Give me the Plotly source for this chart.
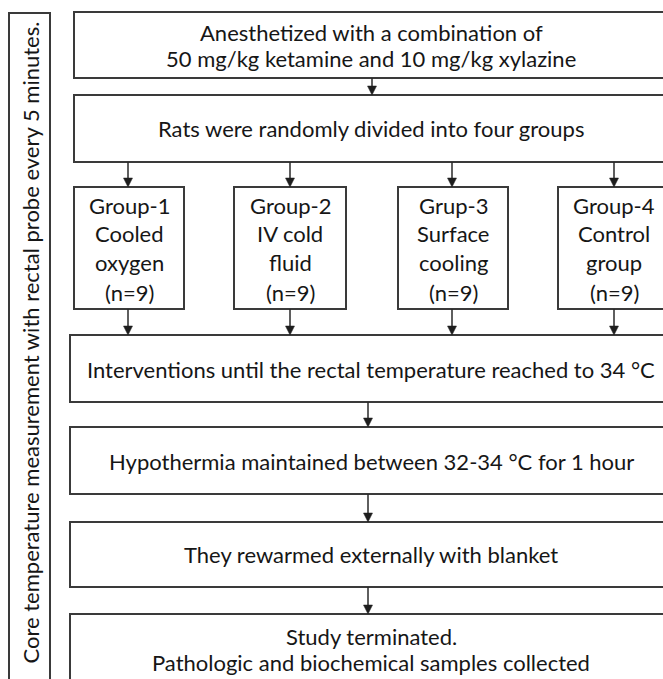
import plotly.graph_objects as go

# ---- text content ----
side_label = "Core temperature measurement with rectal probe every 5 minutes."
step_texts = [
    ["Anesthetized with a combination of", "50 mg/kg ketamine and 10 mg/kg xylazine"],
    ["Rats were randomly divided into four groups"],
    ["Interventions until the rectal temperature reached to 34 °C"],
    ["Hypothermia maintained between 32-34 °C for 1 hour"],
    ["They rewarmed externally with blanket"],
    ["Study terminated.", "Pathologic and biochemical samples collected"],
]
group_texts = [
    ["Group-1", "Cooled", "oxygen", "(n=9)"],
    ["Group-2", "IV cold", "fluid", "(n=9)"],
    ["Grup-3", "Surface", "cooling", "(n=9)"],
    ["Group-4", "Control", "group", "(n=9)"],
]

# ---- layout geometry (pixels, y downward) ----
W, H = 663, 679
LINE = dict(color="#3a3a3a", width=2)
FONT = dict(family="Lato, Open Sans, sans-serif", size=22, color="#161616")

step_boxes = [  # x0, x1, y0, y1
    (74, 672, 12, 78),
    (74, 672, 95, 162),
    (70, 672, 335, 402),
    (70, 672, 427, 494),
    (70, 672, 522, 587),
    (70, 672, 614, 690),
]
step_line_y = [[32, 58], [128], [369], [461], [554], [636, 662]]
group_boxes = [(74, 184), (234, 346), (398, 508), (558, 670)]
group_y = (187, 309)
group_arrow_x = [128, 290, 452, 614]
group_line_y = [205, 233, 262, 292]
side_box = (9, 50, 13, 700)

shapes = []
annotations = []

def rect(x0, x1, y0, y1):
    shapes.append(dict(type="rect", xref="x", yref="y", x0=x0, x1=x1, y0=y0, y1=y1,
                       line=LINE, fillcolor="rgba(0,0,0,0)", layer="above"))

def arrow(x, y0, y1):
    shapes.append(dict(type="line", xref="x", yref="y", x0=x, x1=x, y0=y0, y1=y1 - 6,
                       line=dict(color="#2a2a2a", width=1.5)))
    shapes.append(dict(type="path", xref="x", yref="y",
                       path=f"M {x-4.5},{y1-9} L {x+4.5},{y1-9} L {x},{y1} Z",
                       fillcolor="#1e1e1e", line=dict(color="#1e1e1e", width=0.5)))

rect(*side_box)
annotations.append(dict(x=(side_box[0] + side_box[1]) / 2, y=343, text=side_label,
                        textangle=-90, showarrow=False, xref="x", yref="y",
                        font=FONT, xanchor="center", yanchor="middle"))

for (x0, x1, y0, y1), lines, ys in zip(step_boxes, step_texts, step_line_y):
    rect(x0, x1, y0, y1)
    cx = (70 + 672) / 2
    for t, yy in zip(lines, ys):
        annotations.append(dict(x=cx, y=yy, text=t, showarrow=False, xref="x", yref="y",
                                font=FONT, xanchor="center", yanchor="middle"))

for (x0, x1), lines, ax in zip(group_boxes, group_texts, group_arrow_x):
    rect(x0, x1, group_y[0], group_y[1])
    for t, yy in zip(lines, group_line_y):
        annotations.append(dict(x=(x0 + x1) / 2, y=yy, text=t, showarrow=False,
                                xref="x", yref="y", font=FONT,
                                xanchor="center", yanchor="middle"))
    arrow(ax, step_boxes[1][3], group_y[0])
    arrow(ax, group_y[1], step_boxes[2][2])

# vertical arrows between main steps
arrow(372, step_boxes[0][3], step_boxes[1][2])
for i in range(2, 5):
    arrow(368, step_boxes[i][3], step_boxes[i + 1][2])

fig = go.Figure()
fig.update_layout(
    width=W, height=H,
    margin=dict(l=0, r=0, t=0, b=0),
    paper_bgcolor="white", plot_bgcolor="white",
    xaxis=dict(range=[0, W], visible=False, fixedrange=True),
    yaxis=dict(range=[H, 0], visible=False, fixedrange=True),
    shapes=shapes, annotations=annotations, showlegend=False,
)
fig.write_html("out.html", config={"displayModeBar": False},
               post_script="document.body.style.margin='0';document.body.style.overflow='hidden';")
